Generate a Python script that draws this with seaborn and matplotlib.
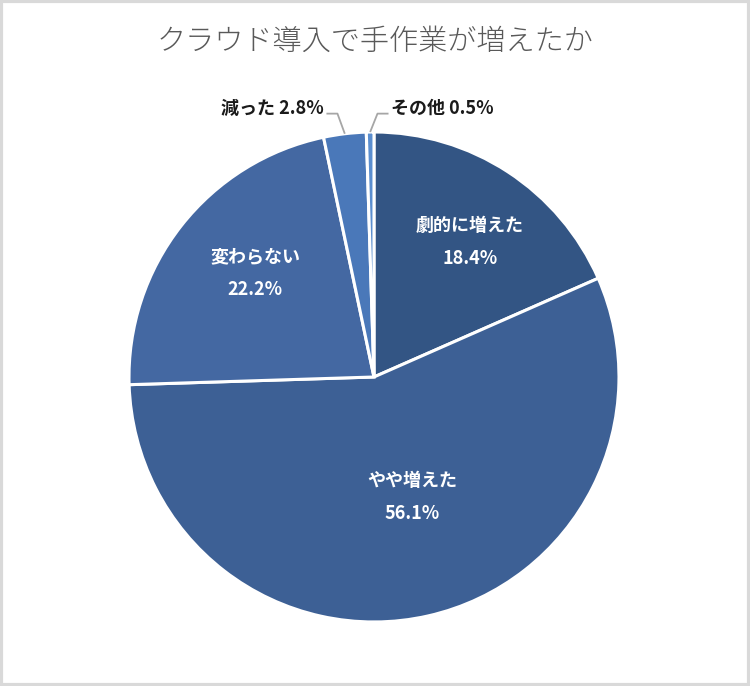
import numpy as np
import matplotlib
matplotlib.use('Agg')
import matplotlib.pyplot as plt
import seaborn as sns

sns.set_theme(style='white')
plt.rcParams['font.family'] = ['Noto Sans CJK JP', 'DejaVu Sans']

labels = ['劇的に増えた', 'やや増えた', '変わらない', '減った', 'その他']
values = [18.4, 56.1, 22.2, 2.8, 0.5]
colors = ['#335584', '#3d6095', '#4468a2', '#4a78b9', '#5b8ecf']

fig = plt.figure(figsize=(7.5, 6.86), dpi=100)
fig.patch.set_facecolor('white')
# thin light-gray frame around the whole image
fig.patches.append(plt.Rectangle((0.0015, 0.0015), 0.997, 0.997, transform=fig.transFigure,
                                 fill=False, edgecolor='#d9d9d9', linewidth=3))

ax = fig.add_axes([0.172, 0.0933, 0.6533, 0.7143])
wedges, _ = ax.pie(values, colors=colors, startangle=90, counterclock=False,
                   wedgeprops={'edgecolor': 'white', 'linewidth': 2.2})
ax.set_xlim(-1, 1)
ax.set_ylim(-1, 1)
ax.set_aspect('equal')
ax.axis('off')

# inside labels: (distance from centre as fraction of radius, angle nudge in degrees)
inside_pos = {0: (0.676, -2.3), 1: (0.514, 4.8), 2: (0.645, -3.0)}
for i, (d, nudge) in inside_pos.items():
    w = wedges[i]
    ang = np.deg2rad((w.theta1 + w.theta2) / 2 + nudge)
    x, y = d * np.cos(ang), d * np.sin(ang)
    ax.text(x, y, f'{labels[i]}\n{values[i]:.1f}%', ha='center', va='center',
            color='white', fontsize=13, fontweight='bold', linespacing=1.9)

# outside labels with leader lines
lab_y = 1.075
for i, side in [(3, -1), (4, 1)]:
    w = wedges[i]
    ang = np.deg2rad((w.theta1 + w.theta2) / 2)
    ex, ey = np.cos(ang), np.sin(ang)
    kx = ex + side * 0.03
    tx = kx + side * 0.045
    ax.plot([ex, kx, tx], [ey, lab_y, lab_y], color='#a6a6a6', lw=1.3,
            clip_on=False, solid_capstyle='butt')
    ax.text(tx + side * 0.01, lab_y + 0.02, f'{labels[i]} {values[i]:.1f}%',
            ha='left' if side > 0 else 'right', va='center',
            fontsize=13, fontweight='bold', color='#1a1a1a')

fig.text(0.5, 0.939, 'クラウド導入で手作業が増えたか', ha='center', va='center',
         fontsize=21, color='#595959', fontweight='light')

fig.savefig('out.png', dpi=100)
